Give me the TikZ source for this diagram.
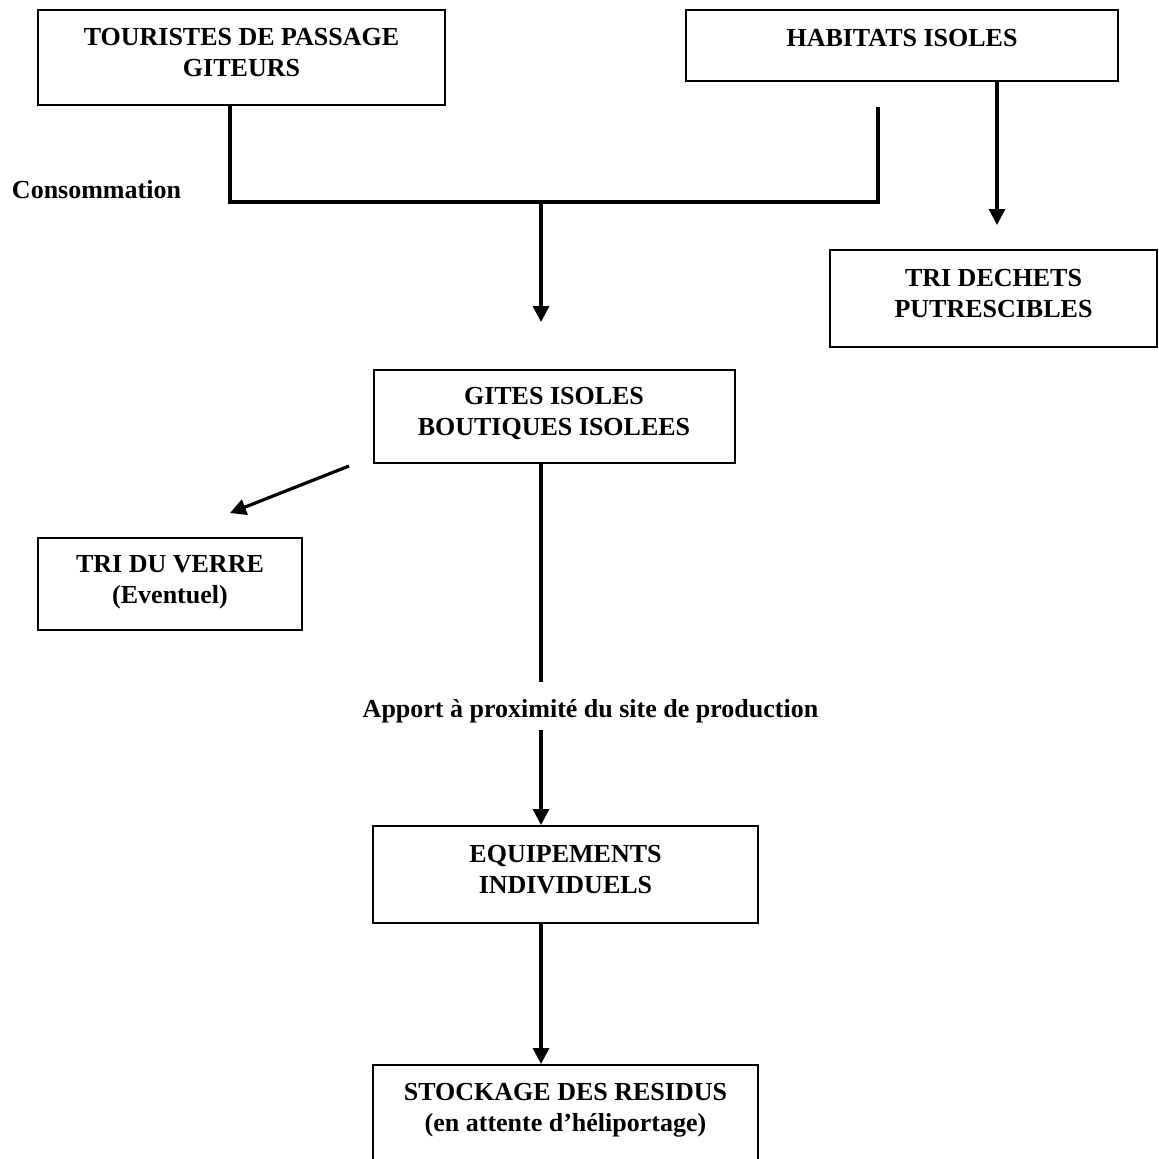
\documentclass[tikz,border=0pt]{standalone}
\usepackage{fontspec}
\setmainfont{Liberation Serif}
\usetikzlibrary{arrows.meta,positioning}
\tikzset{
  flowbox/.style={draw, line width=1pt, align=center, inner sep=0pt, text depth=5pt, font=\fontsize{13}{15.5}\selectfont\bfseries},
  note/.style={align=center, font=\fontsize{13}{15.5}\selectfont\bfseries},
  link/.style={line width=1.6pt},
  arrow/.style={-{Triangle[length=8pt,width=8pt]}, line width=1.6pt}
}

\begin{document}
\begin{tikzpicture}[x=0.5pt, y=-0.5pt]
  \useasboundingbox (0,0) rectangle (1159,1158);
  % boxes
  \node[flowbox, minimum width=203.5pt, minimum height=47.5pt] (tour) at (241.5,57.5) {TOURISTES DE PASSAGE\\GITEURS};
  \node[flowbox, minimum width=216pt, minimum height=35.5pt, text depth=7.5pt] (hab) at (902,45.5) {HABITATS ISOLES};
  \node[flowbox, minimum width=163.5pt, minimum height=48.5pt] (dech) at (993.5,298.5) {TRI DECHETS\\PUTRESCIBLES};
  \node[flowbox, minimum width=180.5pt, minimum height=46.5pt] (gites) at (554,416.5) {GITES ISOLES\\BOUTIQUES ISOLEES};
  \node[flowbox, minimum width=132pt, minimum height=46pt] (verre) at (170,584) {TRI DU VERRE\\(Eventuel)};
  \node[flowbox, minimum width=192.5pt, minimum height=48.5pt] (equip) at (565.5,874.5) {EQUIPEMENTS\\INDIVIDUELS};
  \node[flowbox, minimum width=192.5pt, minimum height=47.5pt] (stock) at (565.5,1112.5) {STOCKAGE DES RESIDUS\\(en attente d'héliportage)};
  % labels
  \node[note] (conso) at (96.5,190) {Consommation};
  \node[note, inner ysep=8.5pt] (apport) at (590.5,711) {Apport à proximité du site de production};
  % free ends
  \coordinate (leftdrop) at (230,202);
  \coordinate (merge) at (541,202);
  \coordinate (habend) at (878,107);
  \coordinate (gitesin) at (541,322);
  \coordinate (dechin) at (997,225);
  \coordinate (verrefrom) at (349,466);
  \coordinate (verreto) at (230,513);
  % connectors
  \draw[link] (tour.south -| leftdrop) |- (merge) -| (habend);
  \draw[arrow] (merge) -- (gitesin);
  \draw[arrow] (hab.south -| dechin) -- (dechin);
  \draw[arrow] (verrefrom) -- (verreto);
  \draw[link] (gites.south -| merge) -- (apport.north -| merge);
  \draw[arrow] ([yshift=5pt]apport.south -| merge) -- (equip.north -| merge);
  \draw[arrow] (equip.south -| merge) -- (stock.north -| merge);
\end{tikzpicture}
\end{document}
